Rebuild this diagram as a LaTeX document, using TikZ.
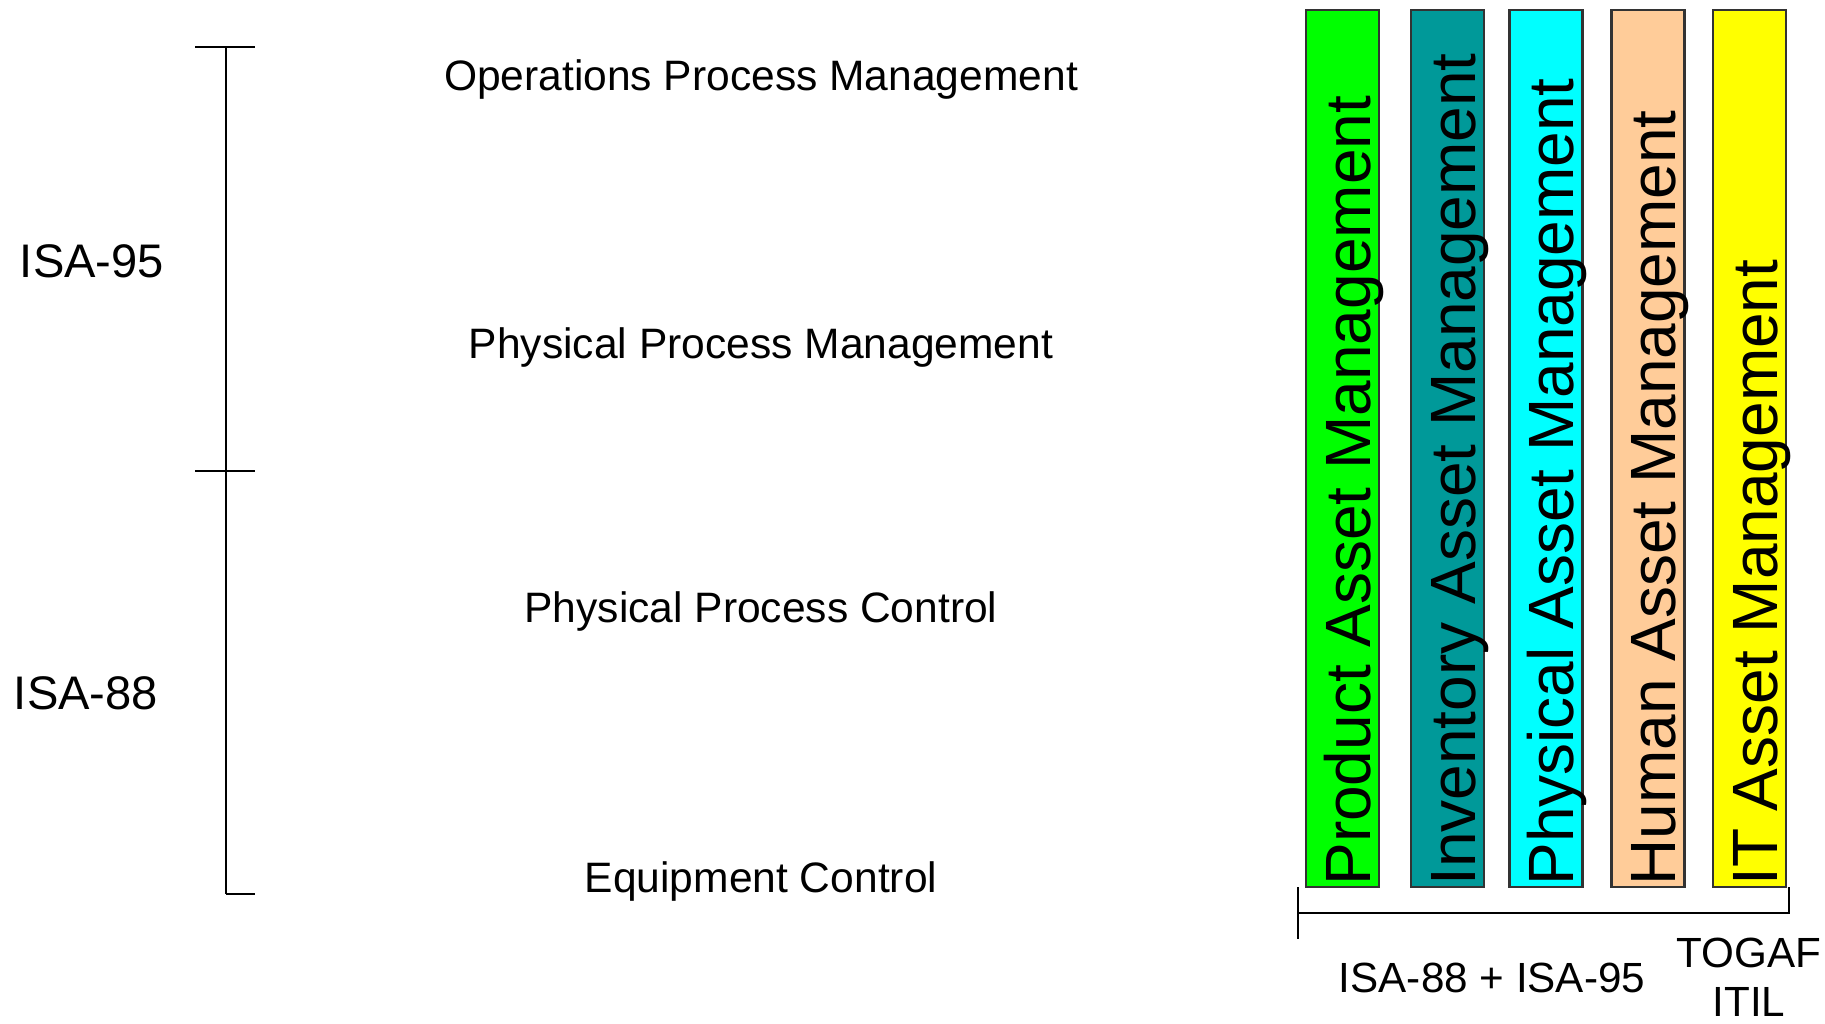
\documentclass[tikz,border=0pt]{standalone}
\usepackage{fontspec}
\setmainfont{Liberation Sans}

\definecolor{prodgreen}{RGB}{0,255,0}
\definecolor{invteal}{RGB}{0,153,153}
\definecolor{physcyan}{RGB}{0,255,255}
\definecolor{humpeach}{RGB}{255,204,153}
\definecolor{ityellow}{RGB}{255,255,0}

\tikzset{
    bar/.style={draw=black!80, line width=0.6pt, minimum width=0.73cm, minimum height=8.77cm, inner sep=0pt},
    barlabel/.style={rotate=90, anchor=base west, inner sep=0pt, font=\fontsize{18.2}{20}\selectfont},
    layer/.style={anchor=base, inner sep=0pt, font=\fontsize{12.1}{14}\selectfont},
    stdlabel/.style={anchor=base, inner sep=0pt, font=\fontsize{13.4}{16}\selectfont},
    scopelabel/.style={anchor=base, inner sep=0pt, align=center, font=\fontsize{12}{13.8}\selectfont},
    brace/.style={line width=0.6pt},
}

\begin{document}
\begin{tikzpicture}[x=0.01cm, y=-0.01cm]
        \useasboundingbox (0,0) rectangle (1825,1023);

        %standards bracket
        \draw[brace] (226,47) coordinate (top) -- (226,894) coordinate (bot);
        \draw[brace] (195,47) -- (top) -- (255,47);
        \draw[brace] (195,471) coordinate (midl) -- (255,471);
        \draw[brace] (bot) -- (255,894);
        \node[stdlabel] (isa95) at (92,277) {ISA-95};
        \node[stdlabel] (isa88) at (86,709) {ISA-88};

        %layers
        \node[layer] (opm) at (761,90) {Operations Process Management};
        \node[layer] (ppm) at (761,358) {Physical Process Management};
        \node[layer] (ppc) at (761,622) {Physical Process Control};
        \node[layer] (eqc) at (761,892) {Equipment Control};

        %asset bars
        \node[bar, fill=prodgreen] (prod) at (1342.5,448.5) {};
        \node[bar, fill=invteal] (inv) at (1447.5,448.5) {};
        \node[bar, fill=physcyan] (phys) at (1546,448.5) {};
        \node[bar, fill=humpeach] (hum) at (1648,448.5) {};
        \node[bar, fill=ityellow] (it) at (1749.5,448.5) {};
        \node[barlabel] (prodtxt) at ([shift={(-10,-2)}]prod.south east) {Product Asset Management};
        \node[barlabel] (invtxt) at ([shift={(-10,-2)}]inv.south east) {Inventory Asset Management};
        \node[barlabel] (phystxt) at ([shift={(-10,-2)}]phys.south east) {Physical Asset Management};
        \node[barlabel] (humtxt) at ([shift={(-10,-2)}]hum.south east) {Human Asset Management};
        \node[barlabel] (ittxt) at ([shift={(-10,-2)}]it.south east) {IT Asset Management};

        %scope bracket
        \draw[brace] (1298,887) -- (1298,939);
        \draw[brace] (1298,913) -- (1789,913) -- (1789,887);
        \node[scopelabel] (isaboth) at (1492,992) {ISA-88 + ISA-95};
        \node[scopelabel] (togaf) at (1749,1016) {TOGAF\\ITIL};
    \end{tikzpicture}
\end{document}
